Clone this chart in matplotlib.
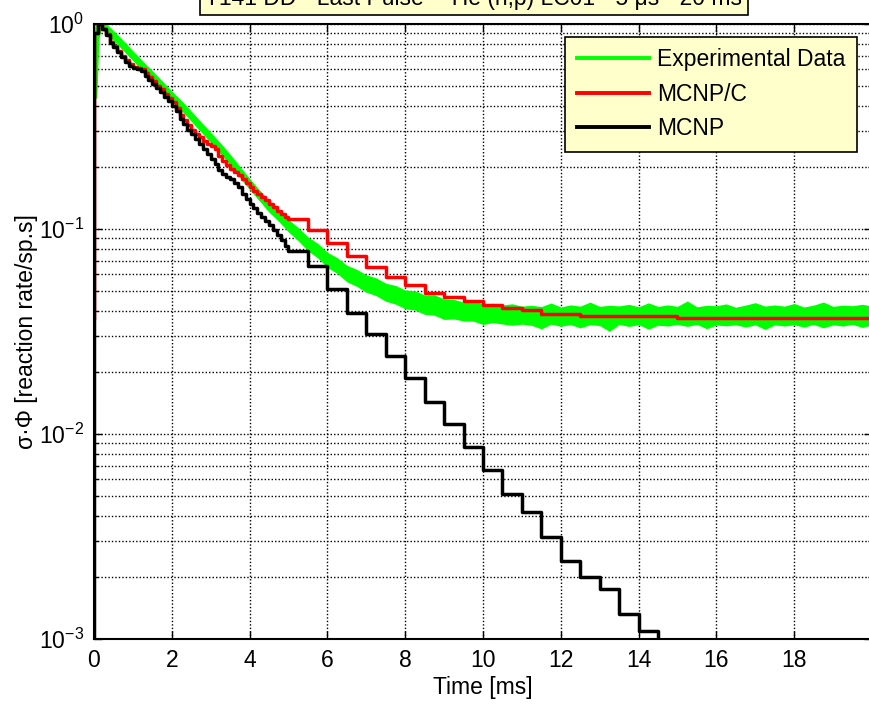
import numpy as np
import matplotlib
matplotlib.use("Agg")
import matplotlib.pyplot as plt
from matplotlib.ticker import LogLocator, NullFormatter, FixedLocator
from matplotlib.lines import Line2D

plt.rcParams['font.family'] = ['Liberation Sans', 'DejaVu Sans']
plt.rcParams['mathtext.fontset'] = 'custom'
plt.rcParams['mathtext.rm'] = 'Liberation Sans'
plt.rcParams['mathtext.it'] = 'Liberation Sans:italic'

# ---------------- data ----------------
title = 'T141 DD - Last Pulse - \u00b3He (n,p) LC01 - 5 \u03bcs - 20 ms'
series_labels = ['Experimental Data', 'MCNP/C', 'MCNP']
x_ticks = [0, 2, 4, 6, 8, 10, 12, 14, 16, 18]

# MCNP (black) : 0.1 ms bins from 0 to 5 ms, 0.5 ms bins afterwards
mcnp_fine = [0.90, 1.0, 0.95, 0.88, 0.81, 0.77, 0.73, 0.69, 0.655, 0.625,
             0.61, 0.60, 0.59, 0.56, 0.535, 0.51, 0.49, 0.465, 0.44, 0.42,
             0.40, 0.375, 0.345, 0.325, 0.305, 0.29, 0.275, 0.26, 0.245, 0.232,
             0.22, 0.207, 0.195, 0.186, 0.18, 0.175, 0.167, 0.16, 0.148, 0.14,
             0.132, 0.126, 0.12, 0.115, 0.11, 0.105, 0.099, 0.094, 0.088, 0.083]
mcnp_coarse = [0.078, 0.066, 0.0508, 0.0391, 0.0306, 0.024, 0.0187, 0.0143,
               0.0112, 0.0086, 0.00667, 0.0051, 0.00415, 0.00313, 0.00241,
               0.00201, 0.00175, 0.00132, 0.00109, 0.0005]

# MCNP/C (red)
mcnpc_fine = [0.90, 1.0, 0.95, 0.89, 0.82, 0.78, 0.74, 0.70, 0.665, 0.635,
              0.62, 0.61, 0.60, 0.575, 0.55, 0.525, 0.50, 0.48, 0.455, 0.435,
              0.415, 0.39, 0.36, 0.34, 0.32, 0.305, 0.292, 0.28, 0.27, 0.26,
              0.255, 0.245, 0.228, 0.215, 0.205, 0.197, 0.19, 0.183, 0.175, 0.167,
              0.16, 0.154, 0.148, 0.143, 0.138, 0.133, 0.128, 0.123, 0.119, 0.115]
mcnpc_coarse = [0.112, 0.099, 0.085, 0.0735, 0.065, 0.0585, 0.0533, 0.0489,
                0.0465, 0.0447, 0.0426, 0.041, 0.0403, 0.0385, 0.0385, 0.0376,
                0.0376, 0.0375, 0.0375, 0.0375, 0.0366, 0.0366, 0.0366, 0.0366,
                0.0366, 0.0366, 0.0366, 0.0366, 0.0366, 0.0366]
mcnpc_start = 0.037

# Experimental data (green): centre and band half widths (decades)
exp_t = [0, 0.05, 0.15] + list(np.arange(0.25, 20.001, 0.25))
exp_c = [0.45, 0.85, 1.0, 0.975, 0.88, 0.785, 0.70, 0.625, 0.56, 0.50,
         0.445, 0.40, 0.355, 0.315, 0.28, 0.248, 0.218, 0.19, 0.166, 0.146,
         0.129, 0.116, 0.104, 0.094, 0.085, 0.078, 0.071, 0.066, 0.061, 0.0575,
         0.0545, 0.052, 0.0495, 0.0475, 0.0458, 0.0445, 0.0432, 0.0421, 0.0412, 0.0405,
         0.0399, 0.0394, 0.0390, 0.0387, 0.0385, 0.0383, 0.0381,
         0.0380, 0.0379, 0.0381, 0.0378, 0.0380, 0.0379,
         0.0378, 0.0380, 0.0379, 0.0381, 0.0378, 0.0379,
         0.0380, 0.0378, 0.0379, 0.0380, 0.0381, 0.0379,
         0.0378, 0.0380, 0.0379, 0.0378, 0.0380, 0.0379,
         0.0381, 0.0378, 0.0379, 0.0380, 0.0378, 0.0379,
         0.0380, 0.0379, 0.0378, 0.0380, 0.0379, 0.0380]
exp_up = [0.0] * 10 + [
    0.012, 0.016, 0.014, 0.018, 0.017, 0.021, 0.019, 0.024, 0.022, 0.027,
    0.025, 0.030, 0.029, 0.034, 0.032, 0.038, 0.035, 0.041, 0.038, 0.044,
    0.040, 0.046, 0.041, 0.048, 0.042, 0.050, 0.043, 0.055, 0.044, 0.049,
    0.043, 0.058, 0.042, 0.050, 0.044, 0.052, 0.043,
    0.048, 0.043, 0.058, 0.042, 0.050, 0.045, 0.066, 0.043, 0.049, 0.044,
    0.055, 0.042, 0.060, 0.045, 0.051, 0.043, 0.068, 0.042, 0.050, 0.046,
    0.056, 0.041, 0.049, 0.062, 0.043, 0.052, 0.045, 0.057, 0.042, 0.050,
    0.064, 0.044, 0.051, 0.046, 0.054, 0.045]
exp_dn = [0.0] * 10 + [
    0.014, 0.012, 0.018, 0.016, 0.020, 0.018, 0.023, 0.021, 0.026, 0.024,
    0.029, 0.027, 0.032, 0.030, 0.036, 0.033, 0.039, 0.036, 0.043, 0.039,
    0.045, 0.041, 0.047, 0.043, 0.050, 0.044, 0.052, 0.045, 0.056, 0.046,
    0.050, 0.045, 0.057, 0.044, 0.049, 0.053, 0.045,
    0.050, 0.066, 0.045, 0.052, 0.046, 0.061, 0.044, 0.051, 0.078, 0.046,
    0.053, 0.045, 0.068, 0.047, 0.052, 0.045, 0.056, 0.044, 0.064, 0.048,
    0.051, 0.045, 0.058, 0.046, 0.071, 0.045, 0.052, 0.047, 0.056, 0.044,
    0.062, 0.046, 0.051, 0.045, 0.059, 0.047]

# ---------------- helpers ----------------
def bin_edges(n_fine, n_coarse):
    fine = np.arange(n_fine + 1) * 0.1
    coarse = 5.0 + np.arange(1, n_coarse + 1) * 0.5
    return np.concatenate([fine, coarse])

def step_xy(vals, edges):
    x = np.repeat(edges, 2)[1:-1]
    y = np.repeat(np.asarray(vals, float), 2)
    return x, y

# ---------------- figure ----------------
W, H = 870, 705
FS = 16.5
fig = plt.figure(figsize=(W / 100, H / 100), dpi=100)
ax = fig.add_axes([94 / W, 66 / H, (872 - 94) / W, (639 - 24) / H])

GREEN, RED = '#00FF00', '#FF0000'

t = np.asarray(exp_t, float)
c = np.asarray(exp_c, float)
n = min(len(t), len(c), len(exp_up), len(exp_dn))
t, c = t[:n], c[:n]
hi = c * 10 ** np.asarray(exp_up[:n])
lo = c / 10 ** np.asarray(exp_dn[:n])
ax.fill_between(t, lo, hi, color=GREEN, lw=0, zorder=2)
ax.plot(t, c, color=GREEN, lw=5, zorder=2, solid_joinstyle='round')

# MCNP/C
e = bin_edges(len(mcnpc_fine), len(mcnpc_coarse))
x, y = step_xy(mcnpc_fine + mcnpc_coarse, e)
x = np.concatenate([[0.0], x])
y = np.concatenate([[mcnpc_start], y])
ax.plot(x, y, color=RED, lw=2.5, zorder=3)

# MCNP
e = bin_edges(len(mcnp_fine), len(mcnp_coarse))
x, y = step_xy(mcnp_fine + mcnp_coarse, e)
x = np.concatenate([[0.0], x, [x[-1]]])
y = np.concatenate([[1e-4], y, [1e-4]])
ax.plot(x, y, color='k', lw=2.5, zorder=4)

ax.set_yscale('log')
ax.set_ylim(1e-3, 1)
ax.set_xlim(0, 20)
ax.xaxis.set_major_locator(FixedLocator(x_ticks))
ax.yaxis.set_major_locator(LogLocator(base=10, numticks=10))
ax.yaxis.set_minor_locator(LogLocator(base=10, subs=np.arange(2, 10), numticks=20))
ax.yaxis.set_minor_formatter(NullFormatter())

gkw = dict(color='k', linestyle=(0, (1, 1.5)), linewidth=1.0)
ax.grid(True, which='major', axis='both', **gkw)
ax.grid(True, which='minor', axis='y', **gkw)
ax.set_axisbelow(True)

ax.tick_params(which='both', direction='in', top=True, right=True,
               labelsize=FS, width=1.0)
ax.tick_params(which='major', length=6, pad=7)
ax.tick_params(which='minor', length=3)
for s in ax.spines.values():
    s.set_linewidth(1.5)

ax.set_xlabel('Time [ms]', fontsize=FS, labelpad=3)
ax.set_ylabel('\u03c3\u00b7\u03a6 [reaction rate/sp.s]', fontsize=FS, labelpad=1)

fig.text(474 / W, 1 - 5 / H, title, ha='center', va='baseline', fontsize=FS,
         bbox=dict(boxstyle='square,pad=0.22', fc='#FFFFCC', ec='k', lw=1.2))

handles = [Line2D([], [], color=GREEN, lw=2.8),
           Line2D([], [], color=RED, lw=2.8),
           Line2D([], [], color='k', lw=2.8)]
leg = ax.legend(handles, series_labels, loc='upper right',
                bbox_to_anchor=(857 / W, 1 - 37 / H), bbox_transform=fig.transFigure,
                borderaxespad=0, fontsize=FS, handlelength=3.15, handletextpad=0.35,
                labelspacing=0.5, borderpad=0.5, fancybox=False, edgecolor='k',
                facecolor='#FFFFCC', framealpha=1)
leg.get_frame().set_linewidth(1.2)
leg.set_zorder(10)

fig.savefig('out.png', dpi=100)
